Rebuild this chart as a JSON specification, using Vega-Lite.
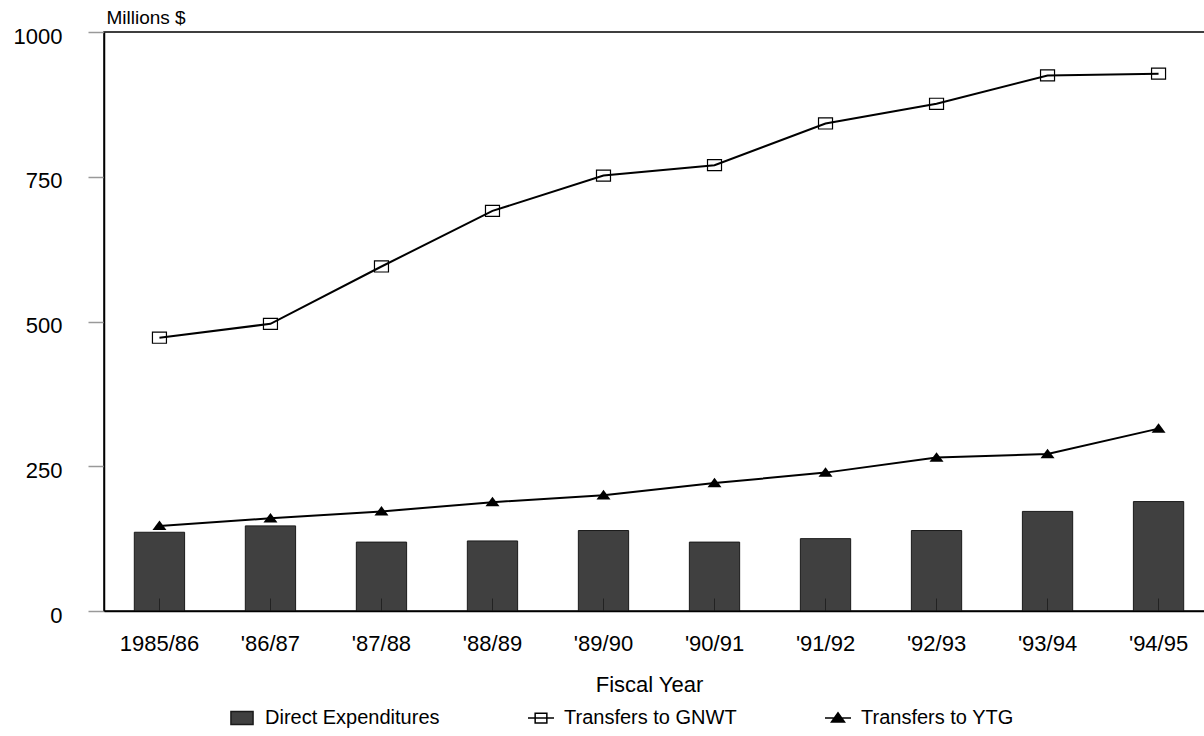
{
  "$schema": "https://vega.github.io/schema/vega-lite/v6.json",
  "autosize": {"type": "none"},
  "padding": {"left": 104, "top": 32, "right": 0, "bottom": 125},
  "width": 1110,
  "height": 579,
  "background": "white",
  "config": {
    "font": "Liberation Sans",
    "view": {"stroke": "black", "strokeWidth": 1.5},
    "axis": {"labelFont": "Liberation Sans", "titleFont": "Liberation Sans", "labelColor": "black", "titleColor": "black", "grid": false, "titleFontWeight": "normal"},
    "legend": {"labelFont": "Liberation Sans", "labelColor": "black"}
  },
  "data": {
    "values": [
      {"year": "1985/86", "series": "Direct Expenditures", "value": 136},
      {"year": "'86/87", "series": "Direct Expenditures", "value": 147},
      {"year": "'87/88", "series": "Direct Expenditures", "value": 119},
      {"year": "'88/89", "series": "Direct Expenditures", "value": 121},
      {"year": "'89/90", "series": "Direct Expenditures", "value": 139},
      {"year": "'90/91", "series": "Direct Expenditures", "value": 119},
      {"year": "'91/92", "series": "Direct Expenditures", "value": 125},
      {"year": "'92/93", "series": "Direct Expenditures", "value": 139},
      {"year": "'93/94", "series": "Direct Expenditures", "value": 172},
      {"year": "'94/95", "series": "Direct Expenditures", "value": 189},
      {"year": "1985/86", "series": "Transfers to GNWT", "value": 472},
      {"year": "'86/87", "series": "Transfers to GNWT", "value": 496},
      {"year": "'87/88", "series": "Transfers to GNWT", "value": 595},
      {"year": "'88/89", "series": "Transfers to GNWT", "value": 691},
      {"year": "'89/90", "series": "Transfers to GNWT", "value": 752},
      {"year": "'90/91", "series": "Transfers to GNWT", "value": 770},
      {"year": "'91/92", "series": "Transfers to GNWT", "value": 842},
      {"year": "'92/93", "series": "Transfers to GNWT", "value": 876},
      {"year": "'93/94", "series": "Transfers to GNWT", "value": 925},
      {"year": "'94/95", "series": "Transfers to GNWT", "value": 928},
      {"year": "1985/86", "series": "Transfers to YTG", "value": 147},
      {"year": "'86/87", "series": "Transfers to YTG", "value": 160},
      {"year": "'87/88", "series": "Transfers to YTG", "value": 172},
      {"year": "'88/89", "series": "Transfers to YTG", "value": 188},
      {"year": "'89/90", "series": "Transfers to YTG", "value": 200},
      {"year": "'90/91", "series": "Transfers to YTG", "value": 221},
      {"year": "'91/92", "series": "Transfers to YTG", "value": 239},
      {"year": "'92/93", "series": "Transfers to YTG", "value": 265},
      {"year": "'93/94", "series": "Transfers to YTG", "value": 271},
      {"year": "'94/95", "series": "Transfers to YTG", "value": 315}
    ]
  },
  "encoding": {
    "x": {
      "field": "year", "type": "ordinal", "sort": null,
      "scale": {"paddingInner": 0.547, "paddingOuter": 0.273},
      "axis": {
        "title": "Fiscal Year", "labelAngle": 0, "labelFontSize": 22, "titleFontSize": 22,
        "domainColor": "black", "domainWidth": 1.5,
        "tickColor": "#222", "tickSize": -13, "tickWidth": 1, "labelPadding": 35,
        "titleX": 545, "titleY": 80, "titleBaseline": "alphabetic", "titleAlign": "center",
        "zindex": 1
      }
    },
    "y": {
      "field": "value", "type": "quantitative",
      "scale": {"domain": [0, 1000], "nice": false},
      "axis": {
        "title": "Millions $", "values": [0, 250, 500, 750, 1000], "format": "d",
        "labelFontSize": 22, "tickColor": "#999", "tickSize": 16, "tickWidth": 1.5,
        "labelPadding": 26, "labelOffset": 4,
        "domainColor": "black", "domainWidth": 1.5,
        "titleAngle": 0, "titleAlign": "left", "titleBaseline": "alphabetic",
        "titleX": 2, "titleY": -9, "titleFontSize": 19, "zindex": 1
      }
    }
  },
  "layer": [
    {
      "transform": [{"filter": "datum.series === 'Direct Expenditures'"}],
      "mark": {"type": "bar", "fill": "#404040", "stroke": "#1a1a1a", "strokeWidth": 1}
    },
    {
      "transform": [{"filter": "datum.series !== 'Direct Expenditures'"}],
      "mark": {"type": "line", "color": "black", "strokeWidth": 2},
      "encoding": {"detail": {"field": "series"}}
    },
    {
      "transform": [{"filter": "datum.series === 'Transfers to GNWT'"}],
      "mark": {"type": "point", "shape": "M-1,-0.79H1V0.79H-1Z", "size": 196, "filled": false, "stroke": "black", "strokeWidth": 1.2, "opacity": 1}
    },
    {
      "transform": [{"filter": "datum.series === 'Transfers to YTG'"}],
      "mark": {"type": "point", "shape": "M-1,0.6L0,-0.77L1,0.6Z", "size": 196, "filled": true, "fill": "black", "opacity": 1, "strokeWidth": 0}
    },
    {
      "transform": [{"filter": "datum.value < 0"}],
      "mark": {"type": "point", "filled": true, "strokeWidth": 1.5},
      "encoding": {
        "shape": {
          "field": "series", "type": "nominal",
          "scale": {"domain": ["Direct Expenditures", "Transfers to GNWT", "Transfers to YTG"], "range": ["M-1.7,-1H1.7V1H-1.7Z", "M-2,0H2M-0.9,-0.75H0.9V0.75H-0.9Z", "M-2,0H2M-1,0.6L0,-0.8L1,0.6Z"]},
          "legend": {"title": null, "orient": "none", "legendX": 128, "legendY": 676, "direction": "horizontal", "labelFontSize": 20, "labelLimit": 400, "symbolSize": 169, "symbolOpacity": 1, "symbolStrokeWidth": 1.5, "columnPadding": 85, "labelOffset": 13, "padding": 0}
        },
        "fill": {
          "field": "series", "type": "nominal",
          "scale": {"domain": ["Direct Expenditures", "Transfers to GNWT", "Transfers to YTG"], "range": ["#404040", "transparent", "black"]},
          "legend": {"title": null, "orient": "none", "legendX": 128, "legendY": 676, "direction": "horizontal", "labelFontSize": 20, "labelLimit": 400, "symbolSize": 169, "symbolOpacity": 1, "symbolStrokeWidth": 1.5, "columnPadding": 85, "labelOffset": 13, "padding": 0}
        },
        "stroke": {
          "field": "series", "type": "nominal",
          "scale": {"domain": ["Direct Expenditures", "Transfers to GNWT", "Transfers to YTG"], "range": ["#1a1a1a", "black", "black"]},
          "legend": {"title": null, "orient": "none", "legendX": 128, "legendY": 676, "direction": "horizontal", "labelFontSize": 20, "labelLimit": 400, "symbolSize": 169, "symbolOpacity": 1, "symbolStrokeWidth": 1.5, "columnPadding": 85, "labelOffset": 13, "padding": 0}
        }
      }
    }
  ]
}
